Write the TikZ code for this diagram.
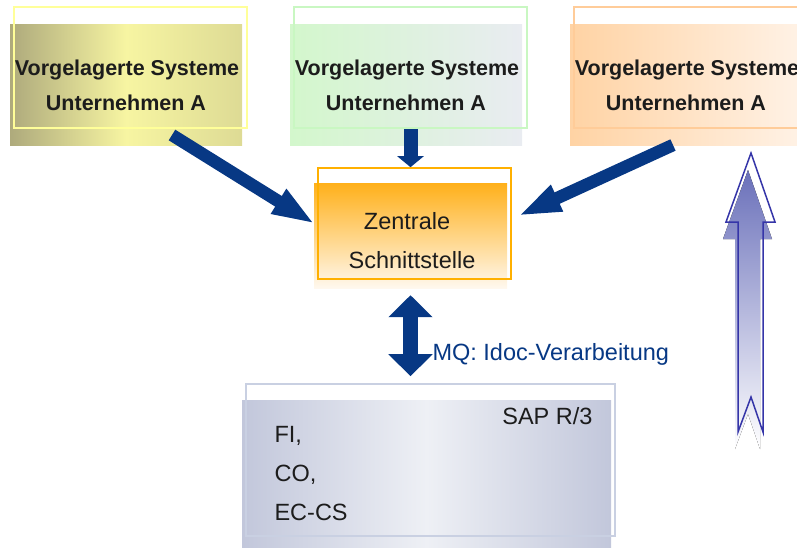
\documentclass[tikz,border=0pt]{standalone}
\usepackage{fontspec}
\setmainfont{Liberation Sans}
\usetikzlibrary{arrows.meta,calc}
\definecolor{Ink}{HTML}{1C1C1C}
\definecolor{Navy}{HTML}{073884}
\definecolor{YelDark}{HTML}{AEAA7C}
\definecolor{YelLight}{HTML}{F7F5A2}
\definecolor{YelLine}{HTML}{FFFF99}
\definecolor{GreenA}{HTML}{D3F7CC}
\definecolor{GreenB}{HTML}{E9ECF1}
\definecolor{GreenLine}{HTML}{C9F7C2}
\definecolor{OrangeA}{HTML}{FFD3A4}
\definecolor{OrangeB}{HTML}{FFF2E6}
\definecolor{OrangeLine}{HTML}{FFCC99}
\definecolor{HubTop}{HTML}{FFB01A}
\definecolor{HubBottom}{HTML}{FFF8EE}
\definecolor{HubLine}{HTML}{FFB000}
\definecolor{SapSide}{HTML}{C2C7DB}
\definecolor{SapMid}{HTML}{EEF0F5}
\definecolor{SapLine}{HTML}{C9D0E2}
\definecolor{UpLine}{HTML}{3535A8}
\definecolor{UpShade}{HTML}{6A70BA}
\tikzset{
  fillbox/.style={rectangle,inner sep=0pt,draw=none},
  framebox/.style={rectangle,inner sep=0pt,fill=none,line width=1.6pt},
  bigflow/.style={-{Triangle[length=43pt,width=26pt]},line width=12.5pt,draw=Navy},
  boxtitle/.style={anchor=base,text=Ink,font=\fontsize{21.5}{25}\selectfont\bfseries},
  boxtext/.style={text=Ink,font=\fontsize{23.5}{28}\selectfont},
}

\begin{document}
\begin{tikzpicture}[x=1pt,y=-1pt]
    \useasboundingbox (0,0) rectangle (797,547);
    \clip (0,0) rectangle (797,547);

    % upstream systems
    \node[fillbox,minimum width=232pt,minimum height=121pt,left color=YelDark,right color=YelLight!65!YelDark,middle color=YelLight] (sysA) at (126,84.5) {};
    \node[fillbox,minimum width=232pt,minimum height=121pt,left color=GreenA,right color=GreenB] (sysB) at (406,84.5) {};
    \node[fillbox,minimum width=232pt,minimum height=121pt,left color=OrangeA,right color=OrangeB] (sysC) at (686,84.5) {};
    \node[framebox,draw=YelLine,minimum width=233pt,minimum height=121pt] (frameA) at (130.5,67.5) {};
    \node[framebox,draw=GreenLine,minimum width=233pt,minimum height=121pt] (frameB) at (410.5,67.5) {};
    \node[framebox,draw=OrangeLine,minimum width=233pt,minimum height=121pt] (frameC) at (690.5,67.5) {};
    \node[boxtitle] (titleA1) at (127,75) {Vorgelagerte Systeme};
    \node[boxtitle] (titleA2) at (126,110) {Unternehmen A};
    \node[boxtitle] (titleB1) at (407,75) {Vorgelagerte Systeme};
    \node[boxtitle] (titleB2) at (406,110) {Unternehmen A};
    \node[boxtitle] (titleC1) at (687,75) {Vorgelagerte Systeme};
    \node[boxtitle] (titleC2) at (686,110) {Unternehmen A};

    % central interface
    \node[fillbox,minimum width=193pt,minimum height=105pt,top color=HubTop,bottom color=HubBottom] (hub) at (410.5,235.5) {};
    \node[framebox,draw=HubLine,minimum width=193pt,minimum height=111pt] (frameH) at (414.5,223.5) {};
    \node[boxtext,anchor=base] (hub1) at (407,229) {Zentrale};
    \node[boxtext,anchor=base] (hub2) at (412,268) {Schnittstelle};

    % SAP
    \node[fillbox,minimum width=369pt,minimum height=150pt,left color=SapSide,right color=SapSide,middle color=SapMid] (sap) at (426.5,475) {};
    \node[framebox,draw=SapLine,minimum width=369pt,minimum height=152pt] (frameS) at (430.5,460) {};
    \node[boxtext,anchor=base east] (saptitle) at (596,424) {SAP R/3};
    \node[boxtext,anchor=base west] (fi) at (271,442) {FI,};
    \node[boxtext,anchor=base west] (co) at (271,481) {CO,};
    \node[boxtext,anchor=base west] (eccs) at (271,520) {EC-CS};

    % flows
    \coordinate (a1tail) at (172,135);
    \coordinate (a1tip) at (315,224);
    \coordinate (a3tail) at (673,145);
    \coordinate (a3tip) at (518,216);
    \draw[bigflow] (a1tail) -- (a1tip);
    \draw[bigflow] (a3tail) -- (a3tip);
    \draw[bigflow,-{Triangle[length=11pt,width=26pt]},line width=14pt] (frameB.south) -- (frameB.south |- frameH.north);
    \draw[{Triangle[length=22pt,width=43pt]}-{Triangle[length=22pt,width=43pt]},line width=15pt,draw=Navy]
      ($(hub.south)+(0,7)$) -- ($(hub.south |- frameS.north)+(0,-7)$);
    \node[anchor=base west,text=Navy,font=\fontsize{23.5}{28}\selectfont] (mq) at (429,360) {MQ: Idoc-Verarbeitung};

    % upward arrow
    \fill[top color=UpShade,bottom color=white,shift={(-3,17)}] (751,153) -- (775,222) -- (763,222) -- (763,432) -- (751,397) -- (738,432) -- (738,222) -- (726,222) -- cycle;
    \draw[line width=1.5pt,draw=UpLine,line join=miter] (751,153) -- (775,222) -- (763,222) -- (763,432) -- (751,397) -- (738,432) -- (738,222) -- (726,222) -- cycle;
\end{tikzpicture}
\end{document}
